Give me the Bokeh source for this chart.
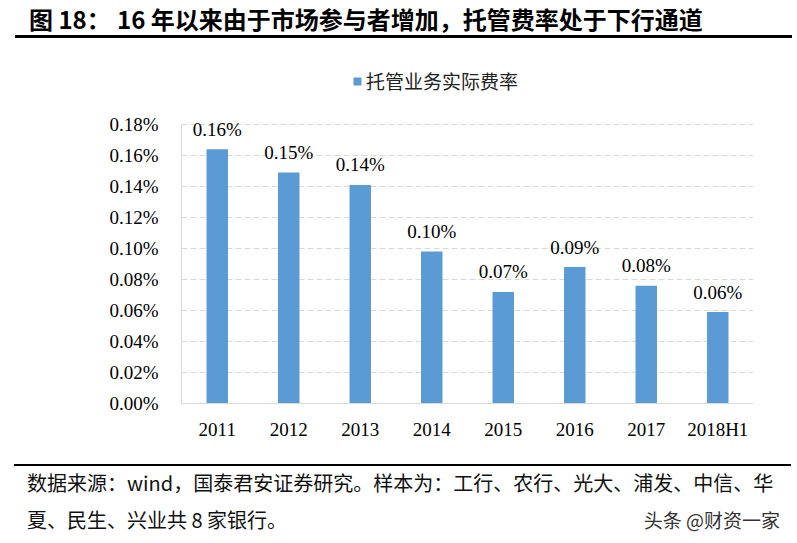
from bokeh.plotting import figure
from bokeh.layouts import column
from bokeh.models import (ColumnDataSource, LabelSet, Legend, LegendItem, Div,
                          PrintfTickFormatter, FixedTicker, Range1d)
from bokeh.core.properties import value
from bokeh.embed import file_html
from bokeh.resources import INLINE

# ---- data (percent) ----
categories = ["2011", "2012", "2013", "2014", "2015", "2016", "2017", "2018H1"]
fee_rate = [0.164, 0.149, 0.141, 0.098, 0.072, 0.088, 0.076, 0.059]
y_ticks = [0.00, 0.02, 0.04, 0.06, 0.08, 0.10, 0.12, 0.14, 0.16, 0.18]
series_name = "托管业务实际费率"
title_no = "图 18："
title_text = "16 年以来由于市场参与者增加，托管费率处于下行通道"
source_line1 = "数据来源：wind，国泰君安证券研究。样本为：工行、农行、光大、浦发、中信、华"
source_line2 = "夏、民生、兴业共 8 家银行。"
watermark = "头条 @财资一家"

rate_labels = ["%.2f%%" % v for v in fee_rate]

SERIF = "Liberation Serif"
CJK = "Noto Sans CJK SC"
BAR = "#5B9BD5"
GRID = "#D9D9D9"
W = 797


def span(txt, left, top, size, weight="normal", color="#000", align="left"):
    pos = "left:%dpx;" % left if align == "left" else "right:%dpx;" % left
    return ('<span style="position:absolute;%stop:%dpx;font-family:\'%s\';'
            'font-size:%dpx;line-height:%dpx;font-weight:%s;color:%s;white-space:nowrap;">%s</span>'
            % (pos, top, CJK, size, size, weight, color, txt))


def rule(left, top, width, thick):
    return ('<div style="position:absolute;left:%dpx;top:%dpx;width:%dpx;height:%dpx;'
            'background:#000;"></div>' % (left, top, width, thick))


# ---- header ----
head_html = ('<div style="position:relative;width:%dpx;height:45px;background:#fff;">' % W
             + span(title_no, 29, 7, 24, "bold")
             + span(title_text, 117, 7, 24, "bold")
             + rule(15, 35, 777, 3)
             + '</div>')
head = Div(text=head_html, width=W, height=45, margin=0)

# ---- main chart ----
TOP_EXTRA = 0.18 + 79 * 0.18 / 279   # room above the 0.18% gridline for legend/labels
src = ColumnDataSource(dict(cat=categories, rate=fee_rate, lab=rate_labels))

p = figure(x_range=categories, y_range=Range1d(0, TOP_EXTRA),
           width=W, height=405, output_backend="svg", toolbar_location=None,
           min_border_left=181, min_border_right=44,
           min_border_top=0, min_border_bottom=47, margin=0)
p.outline_line_color = None
p.background_fill_color = "white"
p.border_fill_color = "white"

r = p.vbar(x="cat", top="rate", width=0.3, source=src,
           fill_color=BAR, line_color=None)

p.yaxis.ticker = FixedTicker(ticks=y_ticks)
p.yaxis.formatter = PrintfTickFormatter(format="%.2f%%")
p.yaxis.bounds = (0, 0.18)
for ax in (p.xaxis[0], p.yaxis[0]):
    ax.axis_line_color = GRID
    ax.axis_line_width = 1
    ax.major_tick_line_color = None
    ax.minor_tick_line_color = None
    ax.major_label_text_font = SERIF
    ax.major_label_text_font_size = "19px"
    ax.major_label_text_color = "#000000"
p.yaxis.major_label_standoff = 17
p.xaxis.major_label_standoff = 9

p.xgrid.visible = False
p.ygrid.ticker = FixedTicker(ticks=y_ticks)
p.ygrid.grid_line_color = GRID
p.ygrid.grid_line_dash = "6 3"
p.ygrid.grid_line_width = 1

labels = LabelSet(x="cat", y="rate", text="lab", source=src,
                  y_offset=20, text_align="center", text_baseline="middle",
                  text_font=value(SERIF), text_font_size=value("19px"),
                  text_color="#000000")
p.add_layout(labels)

legend = Legend(items=[LegendItem(label=series_name, renderers=[r])],
                location=(171, 309), orientation="horizontal",
                glyph_width=10, glyph_height=10, label_standoff=4,
                padding=0, margin=0, border_line_color=None,
                background_fill_alpha=0,
                label_text_font=CJK, label_text_font_size="19px",
                label_text_color="#222222")
p.add_layout(legend)

# ---- footer ----
foot_html = ('<div style="position:relative;width:%dpx;height:93px;background:#fff;">' % W
             + rule(14, 14, 777, 2)
             + span(source_line1, 27, 23, 20, "normal", "#111")
             + span(source_line2, 27, 60, 20, "normal", "#111")
             + span(watermark, 17, 60, 19, "normal", "#333", align="right")
             + '</div>')
foot = Div(text=foot_html, width=W, height=93, margin=0)

layout = column(head, p, foot, spacing=0)
open("out.html", "w").write(file_html(layout, INLINE))
